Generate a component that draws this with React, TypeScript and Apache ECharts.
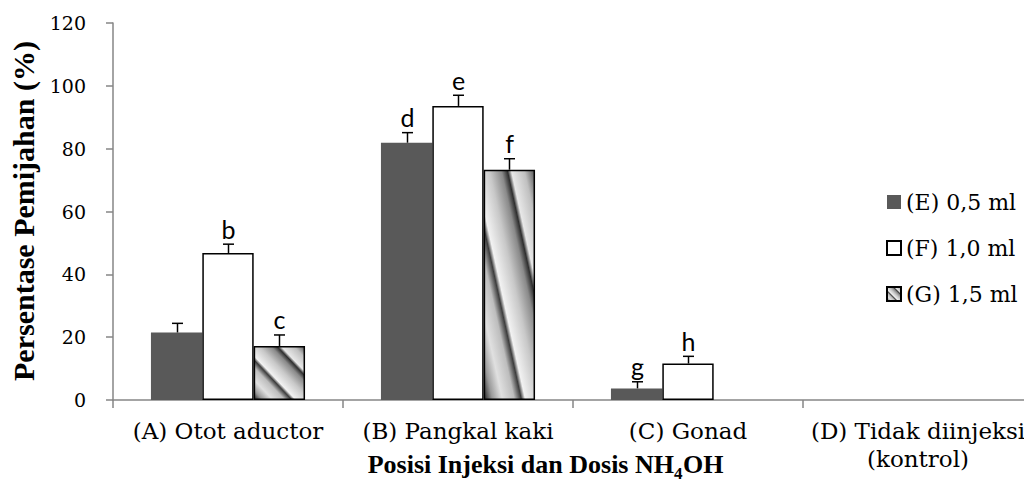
import React, { useEffect, useRef } from "react";
import * as echarts from "echarts";

const categories = [
  "(A) Otot aductor",
  "(B) Pangkal kaki",
  "(C) Gonad",
  "(D) Tidak diinjeksi\n(kontrol)",
];
const seriesNames = ["(E) 0,5 ml", "(F) 1,0 ml", "(G) 1,5 ml"];
const valuesE = [21.5, 81.9, 3.7, 0];
const valuesF = [46.8, 93.6, 11.6, 0];
const valuesG = [17.2, 73.3, 0, 0];
const errorsE = [2.9, 3.2, 2.1, 0];
const errorsF = [2.8, 3.4, 2.3, 0];
const errorsG = [3.5, 3.5, 0, 0];
const lettersE = ["", "d", "g", ""];
const lettersF = ["b", "e", "h", ""];
const lettersG = ["c", "f", "", ""];
const yMin = 0;
const yMax = 120;
const yInterval = 20;
const yTitle = "Persentase Pemijahan (%)";
const xTitleMain = "Posisi Injeksi dan Dosis NH";
const xTitleSub = "4";
const xTitleEnd = "OH";

const BAR_GAP_FRACTION = 0.33;

export default function App() {
  const ref = useRef<HTMLDivElement>(null);

  useEffect(() => {
    if (!ref.current) return;
    const chart = echarts.init(ref.current, undefined, { renderer: "svg" });

    const stripe = {
      type: "linear",
      x: 0,
      y: 1,
      x2: 1,
      y2: 0,
      global: false,
      colorStops: [
        { offset: 0, color: "#2a2a2a" },
        { offset: 0.08, color: "#9a9a9a" },
        { offset: 0.18, color: "#e0e0e0" },
        { offset: 0.3, color: "#bdbdbd" },
        { offset: 0.37, color: "#3c3c3c" },
        { offset: 0.41, color: "#f2f2f2" },
        { offset: 0.55, color: "#c8c8c8" },
        { offset: 0.67, color: "#8a8a8a" },
        { offset: 0.73, color: "#2e2e2e" },
        { offset: 0.77, color: "#e8e8e8" },
        { offset: 0.9, color: "#c0c0c0" },
        { offset: 1, color: "#5a5a5a" },
      ],
    };

    const groups = [
      { vals: valuesE, errs: errorsE, letters: lettersE },
      { vals: valuesF, errs: errorsF, letters: lettersF },
      { vals: valuesG, errs: errorsG, letters: lettersG },
    ];

    const errorSeries = groups.map((g, k) => ({
      type: "custom",
      coordinateSystem: "cartesian2d",
      silent: true,
      z: 5,
      encode: { x: 0, y: 1 },
      data: g.vals.map((v, i) => [i, v, g.errs[i]]),
      renderItem: (params: any, api: any) => {
        const i = params.dataIndex;
        const cat = api.value(0);
        const v = api.value(1);
        const e = api.value(2);
        const letter = g.letters[i];
        if (!e && !letter) return null;
        const center = api.coord([cat, 0]);
        const bandW = api.size([1, 0])[0];
        const barW = (bandW * (1 - BAR_GAP_FRACTION)) / 3;
        const x = Math.round(center[0] + (k - 1) * barW) + 0.5;
        const yTop = api.coord([cat, v])[1];
        const yErr = api.coord([cat, v + e])[1];
        const children: any[] = [];
        if (e) {
          children.push({
            type: "line",
            shape: { x1: x, y1: yTop, x2: x, y2: yErr },
            style: { stroke: "#000", lineWidth: 1.5 },
          });
          children.push({
            type: "line",
            shape: { x1: x - 5.5, y1: yErr, x2: x + 5.5, y2: yErr },
            style: { stroke: "#000", lineWidth: 1.5 },
          });
        }
        if (letter) {
          children.push({
            type: "text",
            x: x,
            y: yErr - 3,
            style: {
              text: letter,
              fontFamily: "Lato",
              fontSize: 25,
              fill: "#000",
              align: "center",
              verticalAlign: "bottom",
            },
          });
        }
        return { type: "group", children };
      },
    }));

    const barData = (vals: number[]) => vals.map((v) => (v === 0 ? null : v));

    const titleFont = {
      fontFamily: "Liberation Serif",
      fontWeight: "bold",
      fill: "#000",
    };

    const option: any = {
      animation: false,
      backgroundColor: "#fff",
      grid: { left: 113, top: 23, bottom: 81, right: 7, containLabel: false },
      legend: {
        data: seriesNames,
        orient: "vertical",
        left: 881,
        top: 186,
        itemWidth: 14,
        itemHeight: 14,
        itemGap: 24,
        icon: "rect",
        textStyle: { fontFamily: "DejaVu Serif", fontSize: 22, color: "#000" },
      },
      xAxis: {
        type: "category",
        data: categories,
        axisLine: { lineStyle: { color: "#868686", width: 1.5 } },
        axisTick: { show: true, length: 8, lineStyle: { color: "#868686", width: 1.5 } },
        axisLabel: {
          interval: 0,
          margin: 17,
          fontFamily: "DejaVu Serif",
          fontSize: 23,
          lineHeight: 28,
          color: "#000",
        },
      },
      yAxis: {
        type: "value",
        min: yMin,
        max: yMax,
        interval: yInterval,
        splitLine: { show: false },
        axisLine: { show: true, lineStyle: { color: "#868686", width: 1.5 } },
        axisTick: { show: true, length: 7, lineStyle: { color: "#868686", width: 1.5 } },
        axisLabel: {
          margin: 27,
          fontFamily: "DejaVu Serif",
          fontSize: 19,
          color: "#000",
        },
      },
      graphic: [
        {
          type: "text",
          x: 23,
          y: 211,
          rotation: Math.PI / 2,
          style: {
            ...titleFont,
            text: yTitle,
            fontSize: 30,
            align: "center",
            verticalAlign: "middle",
          },
        },
        {
          type: "group",
          children: [
            {
              type: "text",
              x: 674,
              y: 464,
              style: {
                ...titleFont,
                text: xTitleMain,
                fontSize: 26,
                align: "right",
                verticalAlign: "middle",
              },
            },
            {
              type: "text",
              x: 674,
              y: 473,
              style: {
                ...titleFont,
                text: xTitleSub,
                fontSize: 17,
                align: "left",
                verticalAlign: "middle",
              },
            },
            {
              type: "text",
              x: 683,
              y: 464,
              style: {
                ...titleFont,
                text: xTitleEnd,
                fontSize: 26,
                align: "left",
                verticalAlign: "middle",
              },
            },
          ],
        },
      ],
      series: [
        {
          name: seriesNames[0],
          type: "bar",
          data: barData(valuesE),
          barGap: "0%",
          barCategoryGap: "33%",
          itemStyle: { color: "#595959", borderWidth: 0 },
        },
        {
          name: seriesNames[1],
          type: "bar",
          data: barData(valuesF),
          barGap: "0%",
          barCategoryGap: "33%",
          itemStyle: { color: "#ffffff", borderColor: "#000", borderWidth: 1.5 },
        },
        {
          name: seriesNames[2],
          type: "bar",
          data: barData(valuesG),
          barGap: "0%",
          barCategoryGap: "33%",
          itemStyle: { color: stripe, borderColor: "#000", borderWidth: 1.5 },
        },
        ...errorSeries,
      ],
    };

    chart.setOption(option);
    return () => chart.dispose();
  }, []);

  return (
    <div
      style={{
        position: "absolute",
        left: 0,
        top: 0,
        width: 1024,
        height: 481,
        overflow: "hidden",
        background: "#fff",
      }}
    >
      <div ref={ref} style={{ width: 1040, height: 481 }} />
    </div>
  );
}
